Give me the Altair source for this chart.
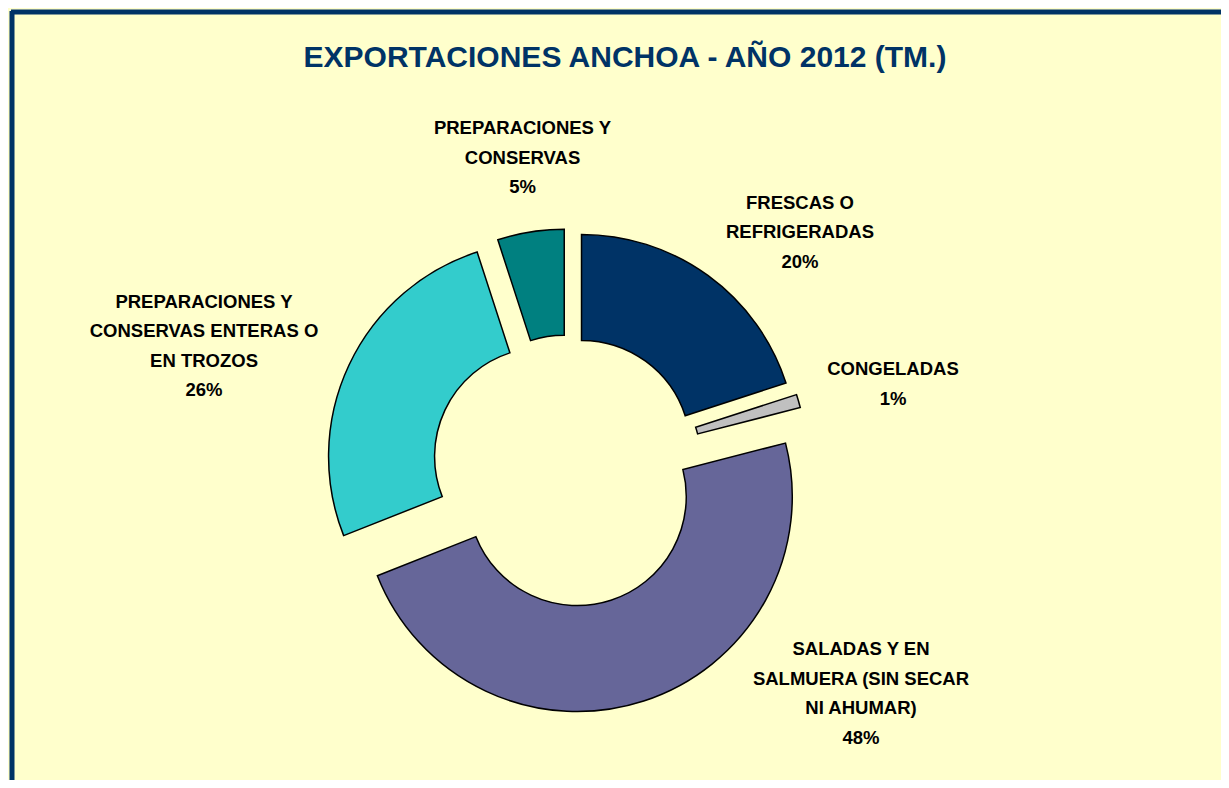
import altair as alt
import pandas as pd

# ---------------- data ----------------
categories = [
    "FRESCAS O REFRIGERADAS",
    "CONGELADAS",
    "SALADAS Y EN SALMUERA (SIN SECAR NI AHUMAR)",
    "PREPARACIONES Y CONSERVAS ENTERAS O EN TROZOS",
    "PREPARACIONES Y CONSERVAS",
]
label_lines = [
    "FRESCAS O\nREFRIGERADAS",
    "CONGELADAS",
    "SALADAS Y EN\nSALMUERA (SIN SECAR\nNI AHUMAR)",
    "PREPARACIONES Y\nCONSERVAS ENTERAS O\nEN TROZOS",
    "PREPARACIONES Y\nCONSERVAS",
]
percent = [20, 1, 48, 26, 5]
title_text = "EXPORTACIONES ANCHOA - AÑO 2012 (TM.)"

# ---------------- layout / style ----------------
W, H = 1213, 772
CX, CY = 557, 457
R_OUT, R_IN = 215, 109
explode = [23, 25, 30, 27, 24]
# centre of the first text line of each label (chart pixels)
label_pos = [(789, 191.5), (882, 358), (850, 638), (193, 290.5), (511.5, 117)]
colors = ["#003366", "#C0C0C0", "#666699", "#33CCCC", "#008080"]
BG = "#FFFFCC"
NAVY = "#003366"
FONT = "Liberation Sans, Arial, sans-serif"

df = pd.DataFrame({
    "cat": categories,
    "value": percent,
    "order": list(range(len(categories))),
    "explode": explode,
})

labels_df = pd.DataFrame({
    "cat": categories,
    "lines": label_lines,
    "value": percent,
    "lx": [p[0] for p in label_pos],
    "ly": [p[1] for p in label_pos],
})

color_scale = alt.Scale(domain=categories, range=colors)

arcs = (
    alt.Chart(df)
    .transform_joinaggregate(total="sum(value)")
    .transform_window(cum="sum(value)", sort=[alt.SortField("order")], frame=[None, 0])
    .transform_calculate(
        t0="(datum.cum - datum.value) / datum.total * 2 * PI",
        t1="datum.cum / datum.total * 2 * PI",
    )
    .transform_calculate(mid="(datum.t0 + datum.t1) / 2")
    .transform_calculate(
        px=f"{CX} + datum.explode * sin(datum.mid)",
        py=f"{CY} - datum.explode * cos(datum.mid)",
    )
    .mark_arc(radius=R_OUT, radius2=R_IN, stroke="black", strokeWidth=1.5)
    .encode(
        theta=alt.Theta("t0:Q", scale=None, stack=None),
        theta2="t1:Q",
        x=alt.X("px:Q", scale=None, axis=None),
        y=alt.Y("py:Q", scale=None, axis=None),
        color=alt.Color("cat:N", scale=color_scale, legend=None),
    )
)

labels = (
    alt.Chart(labels_df)
    .transform_joinaggregate(total="sum(value)")
    .transform_calculate(
        txt="datum.lines + '\\n' + format(datum.value / datum.total, '.0%')"
    )
    .mark_text(
        font=FONT, fontSize=18.5, fontWeight="bold", color="black",
        align="center", baseline="middle", lineBreak="\n", lineHeight=29.5,
    )
    .encode(
        x=alt.X("lx:Q", scale=None, axis=None),
        y=alt.Y("ly:Q", scale=None, axis=None),
        text="txt:N",
    )
)

title = (
    alt.Chart(pd.DataFrame({"t": [title_text]}))
    .mark_text(font=FONT, fontSize=30, fontWeight="bold", color=NAVY,
               align="center", baseline="middle")
    .encode(x=alt.value(614), y=alt.value(47), text="t:N")
)

top_border = (
    alt.Chart(pd.DataFrame({"a": [0]}))
    .mark_rule(color=NAVY, strokeWidth=5)
    .encode(x=alt.value(0), x2=alt.value(W), y=alt.value(1))
)
left_border = (
    alt.Chart(pd.DataFrame({"a": [0]}))
    .mark_rule(color=NAVY, strokeWidth=5)
    .encode(x=alt.value(1), y=alt.value(0), y2=alt.value(H))
)

chart = (
    alt.layer(arcs, labels, title, top_border, left_border)
    .properties(
        width=W, height=H,
        autosize=alt.AutoSizeParams(type="fit", contains="padding"),
        padding=0,
        background=BG,
    )
    .configure_view(stroke=None)
)

chart.save("out.html", embed_options={"renderer": "svg", "actions": False})
